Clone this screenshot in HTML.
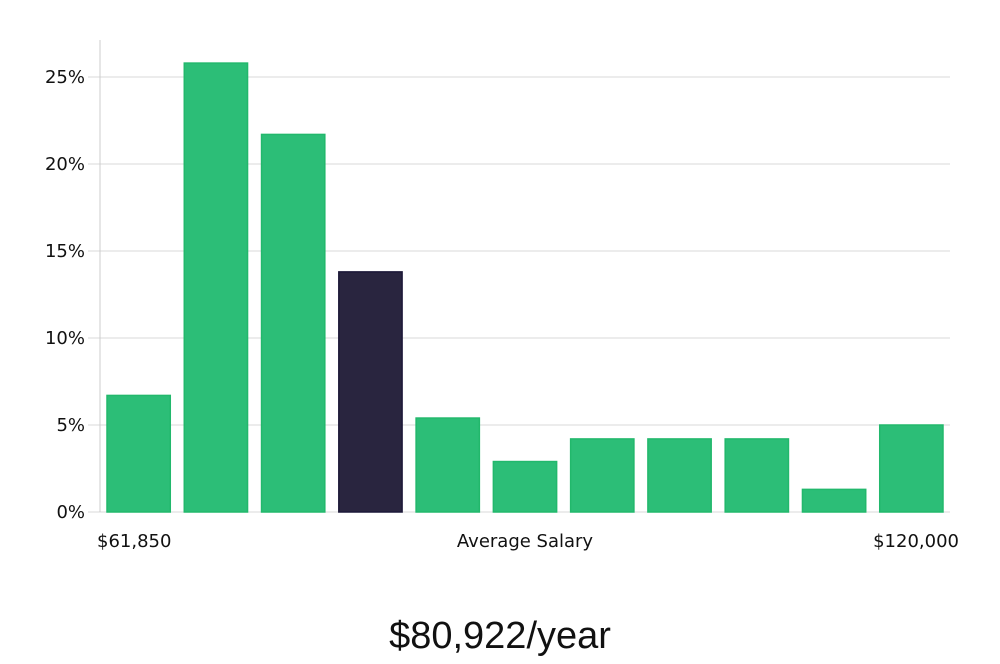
<!DOCTYPE html>
<html><head><meta charset="utf-8">
<style>
body{margin:0;background:#fff;width:1000px;height:660px;overflow:hidden;font-family:"DejaVu Sans","Liberation Sans",sans-serif;}
svg text{font-family:"DejaVu Sans","Liberation Sans",sans-serif;fill:#111;}
</style></head>
<body>
<svg id="chart" width="1000" height="660" xmlns="http://www.w3.org/2000/svg">
<g id="grid"></g><g id="bars"></g><g id="labels"></g>
<line x1="100" y1="40" x2="100" y2="512" stroke="#ccc" stroke-width="1"/>
<text x="97" y="547" font-size="18">$61,850</text>
<text x="525" y="547" font-size="18" text-anchor="middle">Average Salary</text>
<text x="959" y="547" font-size="18" text-anchor="end">$120,000</text>
<text x="500" y="648" font-size="38" text-anchor="middle" style="font-family:'Liberation Sans Narrow','Liberation Sans',sans-serif;font-weight:300">$80,922/year</text>
</svg>
<script>
const values=[6.7,25.8,21.7,13.8,5.4,2.9,4.2,4.2,4.2,1.3,5.0];
const highlight=[false,false,false,true,false,false,false,false,false,false,false];
const ticks=[0,5,10,15,20,25];
const tickLabels=["0%","5%","10%","15%","20%","25%"];
const NS="http://www.w3.org/2000/svg";
const x0=100,x1=950,y0=512,pxPer=87/5;
const slot=(x1-x0)/values.length;
const y=v=>y0-v*pxPer;
const grid=document.getElementById('grid'),bars=document.getElementById('bars'),labels=document.getElementById('labels');
ticks.forEach((t,i)=>{
  const l=document.createElementNS(NS,'line');
  
  
  l.setAttribute('x1',88);l.setAttribute('x2',x1);l.setAttribute('y1',y(t));l.setAttribute('y2',y(t));
  l.setAttribute('stroke','#d9d9d9');l.setAttribute('stroke-width','1');
  grid.appendChild(l);
  const tx=document.createElementNS(NS,'text');
  
  
  tx.setAttribute('x',85);tx.setAttribute('y',y(t)+6);tx.setAttribute('text-anchor','end');tx.setAttribute('font-size','18');
  tx.textContent=tickLabels[i];
  labels.appendChild(tx);
});
values.forEach((v,i)=>{
  const r=document.createElementNS(NS,'rect');
  
  
  r.setAttribute('x',x0+i*slot+7);r.setAttribute('width',slot-14);
  r.setAttribute('y',y(v));r.setAttribute('height',y0-y(v));
  r.setAttribute('fill',highlight[i]?'#29253f':'#2cbe77');
  r.setAttribute('stroke',highlight[i]?'#1c1838':'#22b86c');r.setAttribute('stroke-width','1.5');
  bars.appendChild(r);
});
</script>
</body></html>
